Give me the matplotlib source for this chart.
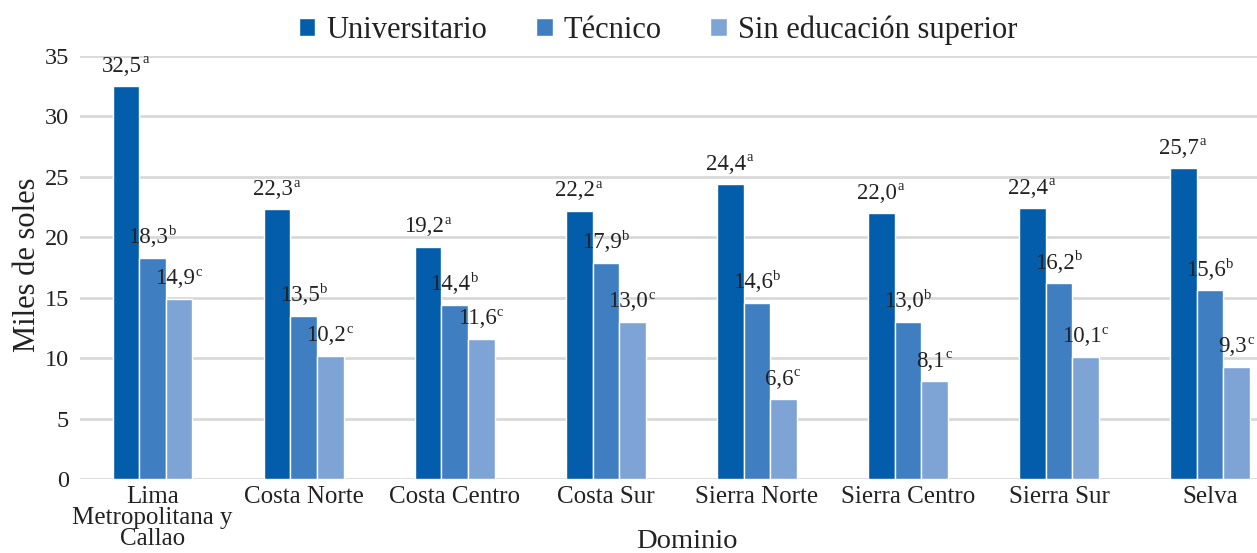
import matplotlib
matplotlib.use("Agg")
import matplotlib.pyplot as plt
import numpy as np

categories = ["Lima\nMetropolitana y\nCallao", "Costa Norte", "Costa Centro", "Costa Sur",
              "Sierra Norte", "Sierra Centro", "Sierra Sur", "Selva"]
series_names = ["Universitario", "Técnico", "Sin educación superior"]
universitario = [32.5, 22.3, 19.2, 22.2, 24.4, 22.0, 22.4, 25.7]
tecnico = [18.3, 13.5, 14.4, 17.9, 14.6, 13.0, 16.2, 15.6]
sin_superior = [14.9, 10.2, 11.6, 13.0, 6.6, 8.1, 10.1, 9.3]
letters = ["a", "b", "c"]
colors = ["#045DAB", "#3F7EC1", "#7EA3D5"]
yticks = [0, 5, 10, 15, 20, 25, 30, 35]

plt.rcParams['font.family'] = ['Liberation Serif', 'DejaVu Serif']

fig = plt.figure(figsize=(12.57, 5.53), dpi=100)
ax = fig.add_axes([80/1257, 1-479/553, 1-80/1257, (479-56)/553])

x = np.arange(len(categories))
w = 0.176
data = [universitario, tecnico, sin_superior]
txtc = "#222222"
for i, (vals, c, name, l) in enumerate(zip(data, colors, series_names, letters)):
    pos = x + (i - 1) * w
    ax.bar(pos, vals, width=w, color=c, edgecolor="white", linewidth=1.0, label=name, zorder=3)
    for p, v in zip(pos, vals):
        s = f"{v:.1f}".replace(".", ",")
        main = ax.annotate(s, xy=(p, v), xytext=(-3, 10.5), textcoords="offset points",
                           ha="center", va="baseline", fontsize=16.5, color=txtc,
                           annotation_clip=False, zorder=4)
        ax.annotate(l, xy=(1, v), xycoords=(main, "data"), xytext=(0.3, 16.5),
                    textcoords="offset points", ha="left", va="baseline", fontsize=10.5,
                    color=txtc, annotation_clip=False, zorder=4)

ax.set_ylim(0, 35)
ax.set_xlim(-0.48, 7.31)
ax.set_yticks(yticks)
ax.set_yticklabels([str(t) for t in yticks], fontsize=17.5, color=txtc)
ax.set_xticks(x)
ax.set_xticklabels(categories, fontsize=18, color=txtc, linespacing=0.95)
ax.tick_params(axis="x", length=0, pad=5)
ax.tick_params(axis="y", length=0, pad=8)
ax.grid(axis="y", color="#D9D9D9", linewidth=2, zorder=0)
for sp in ax.spines.values():
    sp.set_visible(False)

fig.text(28/1257, 1-265/553, "Miles de soles", rotation=90, ha="center", va="center",
         fontsize=22, color=txtc)
fig.text(687/1257, 1-542/553, "Dominio", ha="center", va="center", fontsize=20.5, color=txtc)

leg = fig.legend(loc="center", bbox_to_anchor=(658/1257, 1-30/553), ncol=3, frameon=False,
                 fontsize=22, handlelength=0.55, handleheight=0.55, handletextpad=0.35,
                 columnspacing=1.6)
for t in leg.get_texts():
    t.set_color(txtc)

fig.savefig("out.png", dpi=100)
